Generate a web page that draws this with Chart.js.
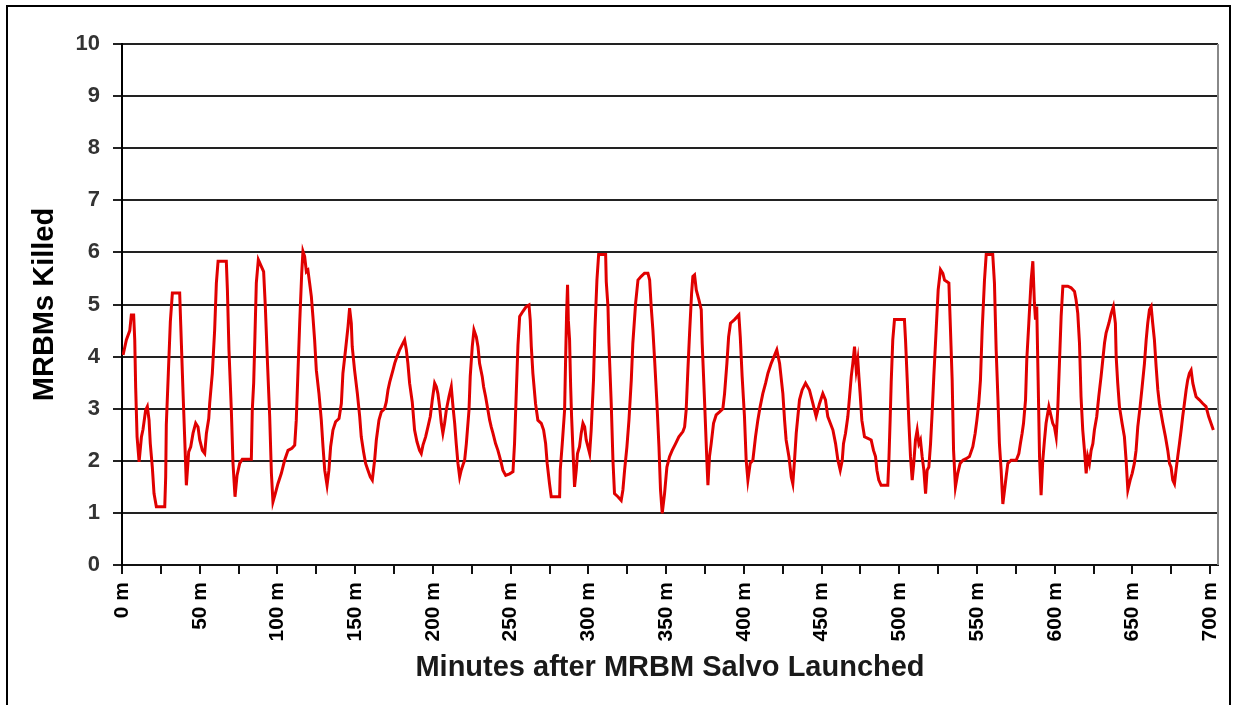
<!DOCTYPE html>
<html>
<head>
<meta charset="utf-8">
<script src="https://cdn.jsdelivr.net/npm/chart.js@4/dist/chart.umd.min.js"></script>
<style>
  body { margin: 0; background: #fff; }
  #wrap { position: relative; width: 1233px; height: 705px; overflow: hidden; }
  #frame {
    position: absolute; left: 6px; top: 5px; width: 1221px; height: 720px;
    border: 2px solid #000; pointer-events: none;
  }
</style>
</head>
<body>
<div id="wrap">
  <canvas id="killChart" width="1233" height="705"></canvas>
  <div id="frame"></div>
</div>
<script>
// minutes after launch (x) and MRBMs killed (y)
const minutes = [
  0.7, 2.8, 5.0, 6.0, 7.5, 8.2, 8.8, 9.7, 11.0, 12.5, 13.5, 15.2, 16.3, 17.4, 18.2, 19.5, 20.6, 22.1, 27.5, 28.1,
  28.5, 29.8, 31.1, 32.4, 37.1, 37.8, 39.2, 40.3, 41.4, 42.9, 44.2, 45.7, 47.4, 48.9, 50.0, 51.7, 53.2, 54.3, 55.8, 56.4,
  58.1, 59.6, 60.7, 61.8, 67.1, 67.8, 68.8, 70.3, 71.4, 72.7, 74.0, 75.7, 77.4, 83.2, 83.8, 84.7, 85.5, 86.4, 87.7, 89.6,
  91.1, 92.2, 93.5, 95.0, 96.1, 97.1, 98.6, 100.3, 102.5, 104.6, 106.8, 109.3, 111.1, 112.1, 113.2, 114.3, 115.6, 116.4, 117.5, 118.6,
  119.6, 120.7, 121.8, 122.8, 123.9, 125.0, 126.7, 128.2, 129.3, 130.4, 131.9, 133.1, 134.2, 135.7, 137.4, 139.6, 141.1, 142.1, 143.9, 145.4,
  146.4, 147.5, 148.1, 149.6, 151.4, 152.9, 153.9, 155.4, 156.7, 158.2, 159.7, 161.0, 162.5, 163.6, 165.3, 166.8, 168.9, 170.0, 171.1, 172.2,
  174.3, 175.4, 176.9, 178.6, 180.1, 181.8, 182.9, 183.9, 185.0, 186.7, 188.2, 189.7, 191.4, 192.5, 193.6, 195.3, 196.8, 198.3, 199.6, 201.1,
  202.2, 203.2, 204.3, 205.4, 206.4, 207.5, 208.6, 210.3, 211.8, 212.9, 214.0, 215.0, 216.1, 217.2, 218.2, 219.3, 220.4, 221.5, 223.2, 224.0,
  225.3, 226.4, 227.9, 229.0, 230.0, 231.7, 232.6, 233.9, 235.4, 236.5, 237.5, 238.6, 240.3, 241.8, 242.9, 244.0, 245.0, 246.8, 249.3, 251.5,
  252.5, 253.6, 254.7, 255.8, 257.9, 260.0, 261.8, 262.6, 263.3, 264.3, 266.0, 267.5, 269.7, 271.2, 272.5, 273.5, 275.0, 276.1, 281.5, 281.9,
  283.2, 284.7, 285.3, 286.0, 286.6, 287.1, 287.9, 288.6, 289.2, 290.0, 291.1, 292.2, 293.0, 294.3, 295.4, 296.5, 297.6, 298.6, 299.7, 300.8,
  301.8, 303.3, 304.2, 305.5, 306.6, 311.1, 311.5, 312.6, 313.2, 314.7, 315.8, 316.8, 319.0, 321.1, 322.2, 323.3, 324.8, 326.1, 327.6, 328.6,
  330.4, 331.9, 334.0, 336.1, 338.3, 339.4, 340.4, 341.5, 342.6, 344.1, 345.4, 346.4, 347.5, 349.0, 350.5, 352.2, 353.9, 356.1, 358.2, 360.8,
  361.9, 362.9, 364.0, 365.1, 366.4, 367.2, 368.3, 369.4, 371.1, 372.6, 373.2, 374.7, 376.2, 376.9, 377.9, 379.0, 380.5, 382.2, 384.4, 386.5,
  387.6, 389.1, 390.2, 391.4, 394.0, 396.8, 397.7, 398.9, 400.4, 401.5, 402.6, 404.1, 405.8, 407.5, 409.0, 410.5, 412.2, 414.0, 415.5, 417.6,
  421.2, 423.0, 425.1, 426.2, 427.2, 429.0, 430.5, 431.5, 432.6, 433.7, 435.8, 437.5, 439.7, 442.2, 444.4, 446.5, 448.7, 450.8, 452.5, 454.0,
  457.3, 459.0, 460.5, 462.0, 463.3, 464.1, 465.4, 466.9, 468.0, 469.1, 470.1, 471.2, 472.3, 473.3, 474.0, 474.8, 475.9, 477.6, 479.8, 481.9,
  483.4, 484.7, 485.6, 486.8, 488.3, 492.6, 493.3, 494.1, 494.8, 495.8, 496.9, 503.3, 504.0, 505.1, 506.1, 507.2, 508.3, 509.3, 510.4, 511.5,
  512.6, 513.6, 514.7, 515.8, 516.9, 517.9, 519.0, 520.1, 521.1, 522.2, 523.7, 525.0, 526.5, 528.0, 529.1, 531.9, 532.7, 534.0, 534.9, 536.1,
  537.6, 539.1, 540.9, 543.0, 545.1, 547.3, 548.8, 549.9, 551.1, 552.2, 553.3, 554.8, 555.9, 560.1, 561.2, 562.3, 563.4, 564.4, 565.5, 566.6,
  567.7, 568.7, 569.8, 571.9, 575.2, 576.9, 577.9, 579.0, 579.9, 581.2, 582.0, 583.3, 584.8, 585.9, 586.9, 587.6, 588.4, 589.3, 590.2, 591.2,
  592.3, 593.4, 594.4, 596.2, 597.7, 598.7, 599.8, 600.9, 601.9, 603.0, 604.1, 605.2, 608.4, 610.5, 612.7, 613.7, 614.8, 615.9, 616.9, 618.0,
  619.1, 620.2, 621.2, 622.3, 623.4, 624.5, 625.5, 627.0, 628.3, 629.8, 630.9, 632.0, 633.0, 634.8, 636.3, 637.7, 639.0, 639.5, 640.5, 641.6,
  643.3, 644.8, 645.9, 647.0, 648.5, 649.8, 651.2, 652.3, 653.4, 654.9, 656.2, 657.7, 658.8, 659.8, 660.9, 662.0, 663.0, 664.1, 665.2, 666.3,
  667.3, 668.4, 669.5, 671.2, 672.7, 673.8, 674.8, 675.9, 677.0, 678.0, 679.1, 680.2, 681.3, 682.3, 683.4, 684.5, 685.5, 686.6, 687.7, 688.8,
  689.8, 690.9, 693.0, 695.2, 697.3, 699.0, 700.5, 702.0
];
const kills = [
  4.03, 4.32, 4.5, 4.8, 4.8, 4.32, 3.4, 2.46, 1.98, 2.46, 2.6, 2.97, 3.04, 2.78, 2.33, 1.88, 1.37, 1.12, 1.12, 1.69,
  2.69, 3.68, 4.67, 5.22, 5.22, 4.6, 3.36, 2.46, 1.53, 2.17, 2.27, 2.53, 2.72, 2.65, 2.4, 2.2, 2.14, 2.53, 2.81, 3.1,
  3.68, 4.51, 5.41, 5.83, 5.83, 5.28, 4.13, 3.0, 1.95, 1.31, 1.72, 1.95, 2.03, 2.03, 2.97, 3.49, 4.38, 5.41, 5.86, 5.73,
  5.63, 4.96, 3.94, 2.85, 1.76, 1.21, 1.37, 1.56, 1.76, 2.01, 2.2, 2.24, 2.3, 2.78, 3.71, 4.64, 5.6, 6.02, 5.92, 5.63,
  5.66, 5.41, 5.15, 4.77, 4.32, 3.74, 3.29, 2.78, 2.27, 1.82, 1.53, 1.82, 2.27, 2.59, 2.75, 2.81, 3.1, 3.68, 4.16, 4.58,
  4.93, 4.64, 4.19, 3.74, 3.29, 2.85, 2.46, 2.17, 1.95, 1.82, 1.69, 1.63, 2.01, 2.4, 2.78, 2.94, 3.0, 3.13, 3.36, 3.51,
  3.74, 3.87, 4.0, 4.13, 4.22, 4.32, 4.13, 3.87, 3.49, 3.13, 2.59, 2.37, 2.2, 2.14, 2.3, 2.46, 2.65, 2.85, 3.17, 3.49,
  3.42, 3.29, 3.04, 2.72, 2.53, 2.72, 2.97, 3.23, 3.42, 3.04, 2.72, 2.33, 1.95, 1.69, 1.82, 1.92, 2.01, 2.33, 2.97, 3.62,
  4.19, 4.51, 4.38, 4.19, 3.87, 3.62, 3.42, 3.23, 2.97, 2.78, 2.65, 2.53, 2.33, 2.2, 2.08, 1.95, 1.82, 1.72, 1.75, 1.79,
  2.33, 3.29, 4.22, 4.77, 4.87, 4.96, 4.99, 4.7, 4.19, 3.68, 3.1, 2.78, 2.72, 2.59, 2.33, 1.95, 1.56, 1.31, 1.31, 1.82,
  2.33, 2.97, 3.87, 4.84, 5.38, 4.7, 4.32, 3.42, 2.85, 2.27, 1.5, 1.82, 2.14, 2.27, 2.53, 2.72, 2.65, 2.4, 2.27, 2.14,
  2.59, 3.55, 4.51, 5.47, 5.96, 5.96, 5.44, 4.96, 4.26, 3.1, 2.01, 1.37, 1.31, 1.24, 1.44, 1.82, 2.27, 2.78, 3.55, 4.26,
  5.03, 5.47, 5.54, 5.6, 5.6, 5.47, 4.96, 4.51, 3.94, 3.1, 2.27, 1.44, 0.99, 1.37, 1.88, 2.08, 2.2, 2.33, 2.46, 2.56,
  2.65, 2.97, 3.74, 4.45, 5.22, 5.54, 5.57, 5.28, 5.09, 4.9, 4.26, 3.17, 2.01, 1.53, 2.08, 2.33, 2.72, 2.88, 2.94, 3.0,
  3.29, 3.87, 4.38, 4.64, 4.71, 4.8, 4.38, 3.62, 2.85, 2.01, 1.63, 1.95, 2.01, 2.46, 2.78, 3.04, 3.29, 3.49, 3.68, 3.87,
  4.13, 3.87, 3.29, 2.78, 2.4, 2.08, 1.69, 1.56, 2.01, 2.53, 3.17, 3.36, 3.49, 3.36, 3.1, 2.85, 3.1, 3.29, 3.17, 2.85,
  2.59, 2.33, 2.01, 1.82, 2.01, 2.33, 2.53, 2.85, 3.23, 3.62, 3.87, 4.19, 3.74, 3.94, 3.62, 3.29, 2.78, 2.46, 2.43, 2.4,
  2.2, 2.08, 1.82, 1.63, 1.53, 1.53, 2.01, 2.78, 3.52, 4.32, 4.71, 4.71, 4.32, 3.55, 2.78, 2.08, 1.63, 1.95, 2.4, 2.59,
  2.33, 2.4, 2.08, 1.82, 1.37, 1.82, 1.88, 2.33, 2.91, 3.62, 4.51, 5.28, 5.67, 5.6, 5.47, 5.41, 4.71, 3.55, 2.2, 1.5,
  1.76, 1.95, 2.01, 2.04, 2.08, 2.27, 2.53, 2.78, 3.1, 3.55, 4.51, 5.47, 5.96, 5.96, 5.41, 4.13, 3.23, 2.33, 1.82, 1.17,
  1.44, 1.69, 1.95, 2.01, 2.01, 2.14, 2.33, 2.53, 2.72, 3.17, 3.94, 4.64, 5.47, 5.83, 5.03, 4.71, 4.96, 3.55, 2.08, 1.34,
  2.01, 2.4, 2.72, 3.04, 2.85, 2.72, 2.65, 2.46, 2.97, 3.87, 4.77, 5.35, 5.35, 5.32, 5.25, 5.09, 4.83, 4.26, 3.23, 2.59,
  2.2, 1.76, 2.08, 1.95, 2.2, 2.33, 2.59, 2.85, 3.23, 3.62, 3.94, 4.26, 4.45, 4.64, 4.83, 4.96, 4.64, 4.0, 3.49, 3.04,
  2.72, 2.46, 2.01, 1.44, 1.63, 1.76, 1.95, 2.2, 2.65, 3.04, 3.42, 3.87, 4.32, 4.64, 4.9, 4.96, 4.64, 4.32, 3.81, 3.36,
  3.1, 2.91, 2.72, 2.46, 2.2, 1.95, 1.88, 1.63, 1.56, 1.82, 2.08, 2.33, 2.59, 2.85, 3.1, 3.36, 3.55, 3.68, 3.74, 3.49,
  3.36, 3.23, 3.17, 3.1, 3.04, 2.85, 2.72, 2.59
];

const xMax = 705;
const xStep = 25;
const xLabelEvery = 50;
const yMax = 10;

const fontFamily = '"Liberation Sans", Arial, sans-serif';

// grey right-hand edge of the plot area
const rightEdge = {
  id: 'rightEdge',
  afterDraw(chart) {
    const { ctx, chartArea } = chart;
    ctx.save();
    ctx.strokeStyle = '#888';
    ctx.lineWidth = 2;
    ctx.beginPath();
    ctx.moveTo(chartArea.right, chartArea.top);
    ctx.lineTo(chartArea.right, chartArea.bottom);
    ctx.stroke();
    ctx.restore();
  }
};

const ctx = document.getElementById('killChart').getContext('2d');
new Chart(ctx, {
  type: 'line',
  data: {
    datasets: [{
      label: 'MRBMs Killed',
      data: minutes.map((m, i) => ({ x: m, y: kills[i] })),
      borderColor: '#e00000',
      borderWidth: 3,
      pointRadius: 0,
      tension: 0,
      fill: false,
    }],
  },
  options: {
    responsive: false,
    animation: false,
    layout: { padding: { left: 0, top: 44, right: 15, bottom: 0 } },
    plugins: { legend: { display: false }, tooltip: { enabled: false } },
    scales: {
      x: {
        type: 'linear',
        min: 0,
        max: xMax,
        afterFit: (scale) => {
          scale.height = 140;
          scale.paddingLeft = 0;
          scale.paddingRight = 0;
        },
        border: { display: true, color: '#111', width: 2 },
        grid: { drawOnChartArea: false, drawTicks: true, tickLength: 9, color: '#111', lineWidth: 2 },
        ticks: {
          stepSize: xStep,
          includeBounds: false,
          autoSkip: false,
          minRotation: 90,
          maxRotation: 90,
          padding: 8,
          color: '#000',
          font: { family: fontFamily, size: 21, weight: 'bold' },
          callback: (v) => (v % xLabelEvery === 0 ? v + ' m' : ''),
        },
        title: {
          display: true,
          text: 'Minutes after MRBM Salvo Launched',
          color: '#1a1a1a',
          font: { family: fontFamily, size: 29, weight: 'bold' },
          padding: { top: 0, bottom: 20 },
        },
      },
      y: {
        min: 0,
        max: yMax,
        afterFit: (scale) => { scale.width = 122; },
        border: { display: true, color: '#000', width: 2 },
        grid: { color: '#222', lineWidth: 2, tickLength: 9 },
        ticks: {
          stepSize: 1,
          padding: 13,
          color: '#333',
          font: { family: fontFamily, size: 22, weight: 'bold' },
        },
        title: {
          display: true,
          text: 'MRBMs Killed',
          color: '#000',
          font: { family: fontFamily, size: 29, weight: 'bold' },
          padding: { top: 28, bottom: 0 },
        },
      },
    },
  },
  plugins: [rightEdge],
});
</script>
</body>
</html>
